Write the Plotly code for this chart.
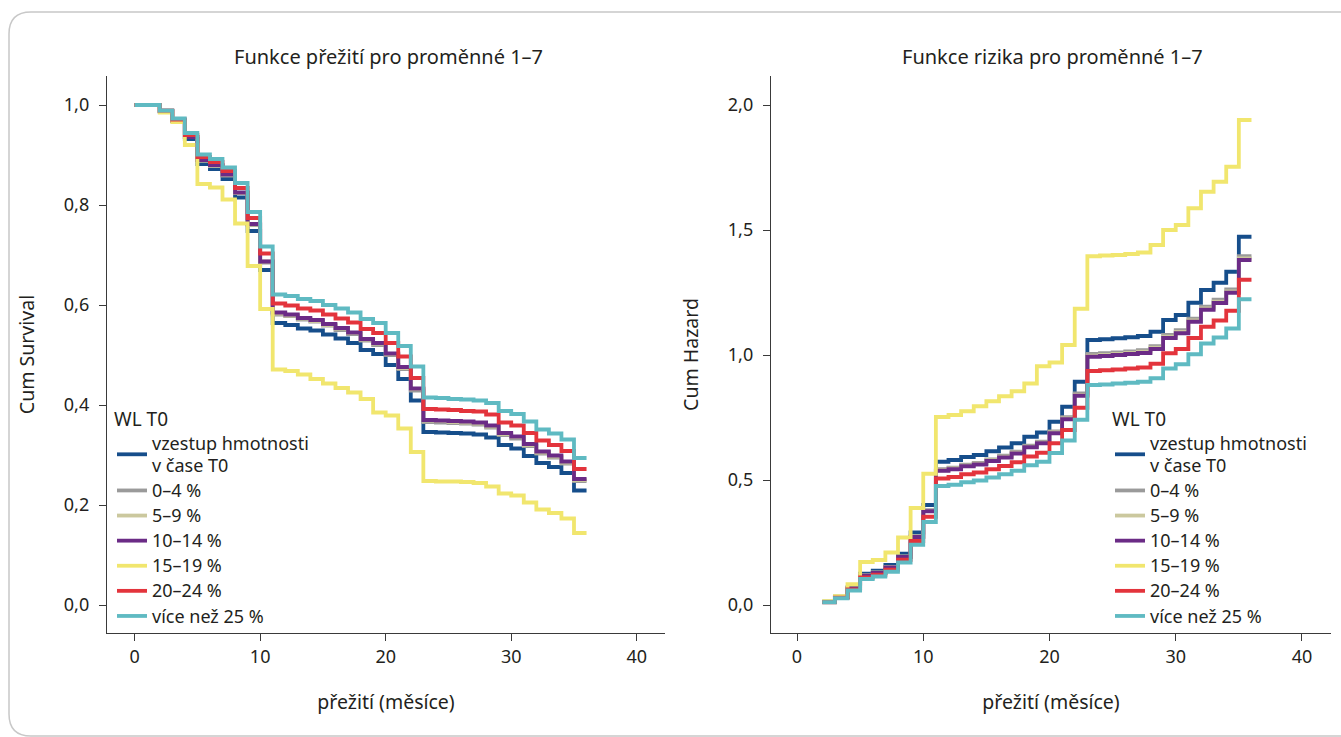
import plotly.graph_objects as go

W, H = 1341, 737

# ---- data ----
groups = ["vzestup hmotnosti<br>v čase T0", "0–4 %", "5–9 %", "10–14 %", "15–19 %", "20–24 %", "více než 25 %"]
colors = ["#164e8b", "#9a9a9a", "#cbc89e", "#6b2b86", "#f1e66e", "#e3343c", "#5fbac2"]

months_surv = [0, 2, 3, 4, 5, 6, 7, 8, 9, 10, 11, 12, 13, 14, 15, 16, 17, 18, 19, 20, 21,
               22, 23, 24, 25, 26, 27, 28, 29, 30, 31, 32, 33, 34, 35, 36]
months_haz = [2, 3, 4, 5, 6, 7, 8, 9, 10, 11, 12, 13, 14, 15, 16, 17, 18, 19, 20, 21,
              22, 23, 24, 25, 26, 27, 28, 29, 30, 31, 32, 33, 34, 35, 36]

surv_gain = [1.0, 0.987, 0.968, 0.932, 0.882, 0.872, 0.852, 0.815, 0.748, 0.670, 0.564, 0.560, 0.553, 0.549,
             0.541, 0.533, 0.524, 0.510, 0.502, 0.480, 0.452, 0.409, 0.346, 0.345, 0.344, 0.343, 0.341,
             0.335, 0.320, 0.313, 0.298, 0.284, 0.276, 0.264, 0.229, 0.229]
surv_0_4 = [1.0, 0.988, 0.969, 0.936, 0.889, 0.878, 0.859, 0.824, 0.760, 0.685, 0.581, 0.578, 0.571, 0.567,
            0.559, 0.550, 0.542, 0.529, 0.520, 0.500, 0.472, 0.429, 0.366, 0.365, 0.364, 0.363, 0.361,
            0.355, 0.340, 0.333, 0.318, 0.303, 0.295, 0.283, 0.248, 0.248]
surv_5_9 = [1.0, 0.988, 0.969, 0.936, 0.889, 0.879, 0.860, 0.824, 0.761, 0.687, 0.583, 0.579, 0.573, 0.568,
            0.560, 0.553, 0.544, 0.531, 0.523, 0.502, 0.474, 0.432, 0.369, 0.368, 0.366, 0.365, 0.363,
            0.357, 0.342, 0.336, 0.320, 0.305, 0.297, 0.285, 0.250, 0.250]
surv_10_14 = [1.0, 0.988, 0.969, 0.936, 0.890, 0.880, 0.861, 0.825, 0.762, 0.687, 0.585, 0.581, 0.574, 0.570,
              0.562, 0.554, 0.545, 0.532, 0.524, 0.503, 0.476, 0.433, 0.370, 0.369, 0.368, 0.367, 0.365,
              0.359, 0.344, 0.337, 0.322, 0.307, 0.299, 0.287, 0.252, 0.252]
surv_15_19 = [1.0, 0.985, 0.966, 0.920, 0.842, 0.835, 0.811, 0.763, 0.678, 0.592, 0.471, 0.468, 0.461, 0.452,
              0.443, 0.434, 0.425, 0.412, 0.385, 0.379, 0.353, 0.306, 0.248, 0.247, 0.247, 0.246, 0.244,
              0.237, 0.223, 0.219, 0.205, 0.191, 0.184, 0.173, 0.144, 0.144]
surv_20_24 = [1.0, 0.989, 0.971, 0.940, 0.896, 0.886, 0.868, 0.834, 0.774, 0.703, 0.603, 0.599, 0.593, 0.589,
              0.581, 0.573, 0.565, 0.552, 0.544, 0.524, 0.497, 0.454, 0.392, 0.391, 0.390, 0.388, 0.387,
              0.381, 0.365, 0.359, 0.344, 0.329, 0.320, 0.308, 0.272, 0.272]
surv_25 = [1.0, 0.989, 0.973, 0.944, 0.901, 0.892, 0.875, 0.844, 0.786, 0.717, 0.621, 0.618, 0.612, 0.608,
           0.600, 0.593, 0.585, 0.572, 0.564, 0.544, 0.518, 0.477, 0.415, 0.414, 0.412, 0.411, 0.409,
           0.404, 0.388, 0.382, 0.367, 0.351, 0.343, 0.331, 0.294, 0.294]

haz_gain = [0.013, 0.033, 0.070, 0.125, 0.137, 0.160, 0.205, 0.290, 0.400, 0.573, 0.580, 0.592, 0.600, 0.615,
            0.630, 0.647, 0.673, 0.690, 0.733, 0.793, 0.893, 1.060, 1.063, 1.067, 1.071, 1.076, 1.093,
            1.140, 1.160, 1.209, 1.260, 1.289, 1.333, 1.473, 1.473]
haz_0_4 = [0.012, 0.031, 0.066, 0.118, 0.130, 0.152, 0.194, 0.275, 0.379, 0.543, 0.549, 0.561, 0.568, 0.582,
           0.597, 0.613, 0.637, 0.653, 0.694, 0.751, 0.846, 1.004, 1.007, 1.010, 1.014, 1.019, 1.035,
           1.080, 1.099, 1.145, 1.193, 1.221, 1.262, 1.395, 1.395]
haz_5_9 = [0.012, 0.031, 0.066, 0.118, 0.129, 0.151, 0.193, 0.273, 0.376, 0.539, 0.546, 0.557, 0.565, 0.579,
           0.593, 0.609, 0.633, 0.649, 0.690, 0.746, 0.840, 0.997, 1.000, 1.004, 1.008, 1.013, 1.029,
           1.073, 1.092, 1.138, 1.186, 1.213, 1.254, 1.386, 1.386]
haz_10_14 = [0.012, 0.031, 0.066, 0.117, 0.128, 0.150, 0.192, 0.272, 0.375, 0.537, 0.543, 0.555, 0.562, 0.576,
             0.590, 0.606, 0.631, 0.647, 0.687, 0.743, 0.837, 0.993, 0.996, 1.000, 1.004, 1.008, 1.024,
             1.068, 1.087, 1.133, 1.181, 1.208, 1.249, 1.380, 1.380]
haz_15_19 = [0.015, 0.035, 0.083, 0.172, 0.180, 0.210, 0.270, 0.388, 0.525, 0.752, 0.760, 0.775, 0.795, 0.815,
             0.835, 0.855, 0.886, 0.955, 0.970, 1.040, 1.185, 1.395, 1.398, 1.400, 1.404, 1.410, 1.440,
             1.500, 1.520, 1.587, 1.653, 1.693, 1.753, 1.940, 1.940]
haz_20_24 = [0.011, 0.029, 0.062, 0.110, 0.121, 0.141, 0.181, 0.256, 0.353, 0.506, 0.512, 0.523, 0.530, 0.543,
             0.556, 0.571, 0.594, 0.609, 0.647, 0.700, 0.789, 0.936, 0.939, 0.942, 0.946, 0.950, 0.965,
             1.007, 1.024, 1.068, 1.113, 1.138, 1.177, 1.301, 1.301]
haz_25 = [0.011, 0.027, 0.058, 0.104, 0.114, 0.133, 0.170, 0.241, 0.332, 0.476, 0.481, 0.491, 0.498, 0.510,
          0.523, 0.537, 0.559, 0.573, 0.608, 0.658, 0.741, 0.880, 0.882, 0.886, 0.889, 0.893, 0.907,
          0.946, 0.963, 1.003, 1.046, 1.070, 1.106, 1.223, 1.223]

x_ticks = [0, 10, 20, 30, 40]
surv_ticks = [0.0, 0.2, 0.4, 0.6, 0.8, 1.0]
surv_ticktext = ["0,0", "0,2", "0,4", "0,6", "0,8", "1,0"]
haz_ticks = [0.0, 0.5, 1.0, 1.5, 2.0]
haz_ticktext = ["0,0", "0,5", "1,0", "1,5", "2,0"]

surv_series = [surv_gain, surv_0_4, surv_5_9, surv_10_14, surv_15_19, surv_20_24, surv_25]
haz_series = [haz_gain, haz_0_4, haz_5_9, haz_10_14, haz_15_19, haz_20_24, haz_25]

FONT = "Noto Sans"
TXT = "#231f20"
AX = "#3a3a3a"
LEG_TXT = 18     # visible legend text size
LEG_ROW = 17     # legend font size that sets the row spacing


def leg_label(s):
    return "<br>".join(f'<span style="font-size:{LEG_TXT}px">{part}</span>' for part in s.split("<br>"))


fig = go.Figure()
for name, col, s in zip(groups, colors, surv_series):
    fig.add_trace(go.Scatter(x=months_surv, y=s, mode="lines", name=leg_label(name),
                             line=dict(color=col, width=3.8, shape="hv"),
                             xaxis="x", yaxis="y", legend="legend"))
for name, col, h in zip(groups, colors, haz_series):
    fig.add_trace(go.Scatter(x=months_haz, y=h, mode="lines", name=leg_label(name),
                             line=dict(color=col, width=3.8, shape="hv"),
                             xaxis="x2", yaxis="y2", legend="legend2"))


def px_x(p):
    return p / W


def px_y(p):
    return 1 - p / H


axis_common = dict(showgrid=False, zeroline=False, showline=True, linecolor=AX, linewidth=1.3,
                   ticks="outside", ticklen=7, tickwidth=1.3, tickcolor=AX,
                   tickfont=dict(family=FONT, size=18, color=TXT), automargin=False)

legend_common = dict(xanchor="left", yanchor="top", bgcolor="rgba(0,0,0,0)",
                     font=dict(family=FONT, size=LEG_ROW, color=TXT),
                     title=dict(text="WL T0", font=dict(family=FONT, size=19, color=TXT)),
                     tracegroupgap=0, itemwidth=30)

fig.update_layout(
    width=W, height=H,
    margin=dict(l=0, r=0, t=0, b=0),
    paper_bgcolor="white", plot_bgcolor="white",
    font=dict(family=FONT, color=TXT),
    xaxis=dict(domain=[px_x(107), px_x(665)], range=[-2.2, 42.25], tickvals=x_ticks,
               anchor="y", title=dict(text="přežití (měsíce)", font=dict(size=19.5), standoff=28),
               **axis_common),
    yaxis=dict(domain=[px_y(633), px_y(76)], range=[-0.056, 1.058], tickvals=surv_ticks,
               ticktext=surv_ticktext, anchor="x", ticklabelstandoff=6,
               title=dict(text="Cum Survival", font=dict(size=19.5), standoff=24),
               **axis_common),
    xaxis2=dict(domain=[px_x(771), px_x(1331)], range=[-2.06, 42.3], tickvals=x_ticks,
                anchor="y2", title=dict(text="přežití (měsíce)", font=dict(size=19.5), standoff=28),
                **axis_common),
    yaxis2=dict(domain=[px_y(633), px_y(76)], range=[-0.112, 2.116], tickvals=haz_ticks,
                ticktext=haz_ticktext, anchor="x2", ticklabelstandoff=6,
                title=dict(text="Cum Hazard", font=dict(size=19.5), standoff=24),
                **axis_common),
    legend=dict(x=px_x(112), y=px_y(401), **legend_common),
    legend2=dict(x=px_x(1110), y=px_y(401), **legend_common),
    annotations=[
        dict(text="Funkce přežití pro proměnné 1–7", x=px_x(388), y=px_y(57), xref="paper", yref="paper",
             xanchor="center", yanchor="middle", showarrow=False,
             font=dict(family=FONT, size=20, color=TXT)),
        dict(text="Funkce rizika pro proměnné 1–7", x=px_x(1052), y=px_y(57), xref="paper", yref="paper",
             xanchor="center", yanchor="middle", showarrow=False,
             font=dict(family=FONT, size=20, color=TXT)),
    ],
)

# outer rounded frame
r = 22
x0, y0, x1, y1 = 9, 12, 1360, 736
path = (f"M {px_x(x0 + r)},{px_y(y0)} L {px_x(x1)},{px_y(y0)} "
        f"M {px_x(x0 + r)},{px_y(y0)} Q {px_x(x0)},{px_y(y0)} {px_x(x0)},{px_y(y0 + r)} "
        f"L {px_x(x0)},{px_y(y1 - r)} Q {px_x(x0)},{px_y(y1)} {px_x(x0 + r)},{px_y(y1)} "
        f"L {px_x(x1)},{px_y(y1)}")
fig.add_shape(type="path", path=path, xref="paper", yref="paper",
              line=dict(color="#c8c8c8", width=1.5))

fig.write_html("out.html")
